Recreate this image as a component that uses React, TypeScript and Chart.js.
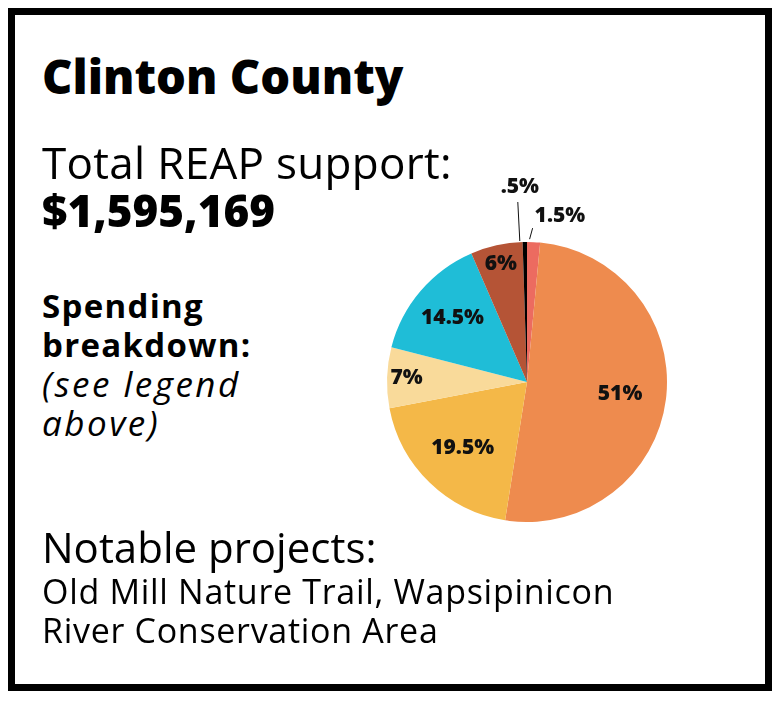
import React, { useEffect, useRef } from "react";
import { Chart, registerables } from "chart.js";

Chart.register(...registerables);

const categories = ["Slice A", "Slice B", "Slice C", "Slice D", "Slice E", "Slice F", "Slice G"];
const shares = [1.5, 51, 19.5, 7, 14.5, 6, 0.5];
const sliceColors = ["#ec6b60", "#ee8b4e", "#f4b848", "#f9da9a", "#1fbdd7", "#b55436", "#000000"];
const labelTexts = ["1.5%", "51%", "19.5%", "7%", "14.5%", "6%", ".5%"];

// label placement styles (radius fraction for inside labels; leader for outside)
const labelStyle: any[] = [
  { outside: true, start: [-4, -3], end: [-1, -14], text: [2, -12], align: "left", base: "middle" },
  { frac: 0.67 },
  { frac: 0.66 },
  { frac: 0.86 },
  { frac: 0.7 },
  { frac: 0.86 },
  { outside: true, start: [-5, -1], end: [-7, -40], text: [2, -5], align: "center", base: "bottom" },
];

const FONT = "'Open Sans', Lato, sans-serif";

const labelPlugin = {
  id: "sliceLabels",
  afterDatasetsDraw(chart: any) {
    const ctx = chart.ctx;
    const meta = chart.getDatasetMeta(0);
    ctx.save();
    ctx.fillStyle = "#111";
    ctx.strokeStyle = "#111";
    ctx.font = `800 21px ${FONT}`;
    meta.data.forEach((arc: any, i: number) => {
      const p = arc.getProps(["x", "y", "startAngle", "endAngle", "outerRadius"], true);
      const mid = (p.startAngle + p.endAngle) / 2;
      const st = labelStyle[i];
      if (!st.outside) {
        const r = p.outerRadius * st.frac;
        ctx.textAlign = "center";
        ctx.textBaseline = "middle";
        ctx.fillText(labelTexts[i], p.x + r * Math.cos(mid), p.y + r * Math.sin(mid));
      } else {
        const ex = p.x + p.outerRadius * Math.cos(mid);
        const ey = p.y + p.outerRadius * Math.sin(mid);
        ctx.lineWidth = 1;
        ctx.beginPath();
        ctx.moveTo(ex + st.start[0], ey + st.start[1]);
        ctx.lineTo(ex + st.end[0], ey + st.end[1]);
        ctx.stroke();
        ctx.textAlign = st.align;
        ctx.textBaseline = st.base;
        ctx.fillText(labelTexts[i], ex + st.end[0] + st.text[0], ey + st.end[1] + st.text[1]);
      }
    });
    ctx.restore();
  },
};

function T(props: { x: number; b: number; s: number; w?: number; i?: boolean; ls?: number; children: any }) {
  const { x, b, s, w = 400, i = false, ls = 0 } = props;
  const L = s;
  const top = b - (L / 2 + 0.388 * s) - 8;
  return (
    <div
      style={{
        position: "absolute",
        left: x - 8,
        top,
        fontFamily: FONT,
        fontSize: s,
        lineHeight: `${L}px`,
        fontWeight: w,
        fontStyle: i ? "italic" : "normal",
        letterSpacing: ls,
        color: "#000",
        whiteSpace: "nowrap",
      }}
    >
      {props.children}
    </div>
  );
}

export default function App() {
  const ref = useRef<HTMLCanvasElement>(null);
  useEffect(() => {
    if (!ref.current) return;
    const chart = new Chart(ref.current, {
      type: "pie",
      data: {
        labels: categories,
        datasets: [{ data: shares, backgroundColor: sliceColors, borderWidth: 0 }],
      },
      options: {
        responsive: false,
        animation: false,
        rotation: 0,
        layout: { padding: { left: 50, right: 50, top: 100, bottom: 0 } },
        plugins: { legend: { display: false }, tooltip: { enabled: false } },
      },
      plugins: [labelPlugin],
    });
    return () => chart.destroy();
  }, []);

  return (
    <div style={{ position: "relative", width: 764, height: 683, background: "#fff" }}>
      <div
        style={{
          position: "absolute",
          left: 0,
          top: 0,
          width: 764,
          height: 683,
          boxSizing: "border-box",
          border: "7px solid #000",
        }}
      />
      <canvas
        ref={ref}
        width={380}
        height={380}
        style={{ position: "absolute", left: 329, top: 134, width: 380, height: 380 }}
      />
      <T x={42} b={95} s={47} w={800}>Clinton County</T>
      <T x={42} b={179} s={44} ls={0.3}>Total REAP support:</T>
      <T x={42} b={227} s={44} w={800}>$1,595,169</T>
      <T x={42} b={318} s={33} w={700} ls={1.3}>Spending</T>
      <T x={42} b={357} s={33} w={700} ls={1.3}>breakdown:</T>
      <T x={42} b={397} s={35} i ls={2.5}>(see legend</T>
      <T x={42} b={436} s={35} i ls={2.5}>above)</T>
      <T x={42} b={563} s={42}>Notable projects:</T>
      <T x={42} b={604} s={34} ls={0.7}>Old Mill Nature Trail, Wapsipinicon</T>
      <T x={42} b={643} s={34} ls={0.7}>River Conservation Area</T>
    </div>
  );
}
